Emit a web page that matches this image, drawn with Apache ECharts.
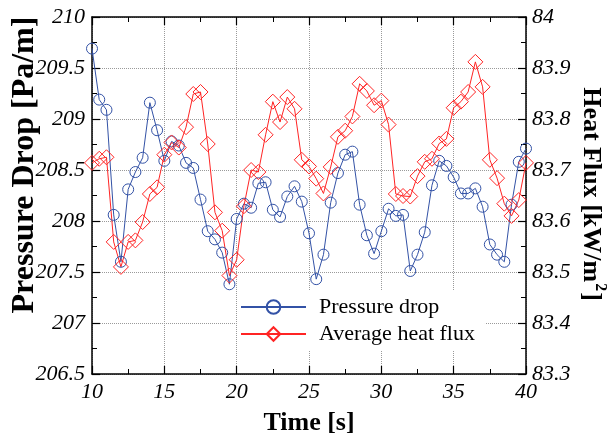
<!DOCTYPE html>
<html>
<head>
<meta charset="utf-8">
<script src="https://cdn.jsdelivr.net/npm/echarts@6/dist/echarts.min.js"></script>
<style>
html,body{margin:0;padding:0;background:#fff;}
#chart{width:608px;height:437px;}
</style>
</head>
<body>
<div id="chart"></div>
<script>
// Time [s]
var times = [10,10.5,11,11.5,12,12.5,13,13.5,14,14.5,15,15.5,16,16.5,17,17.5,18,18.5,19,19.5,
  20,20.5,21,21.5,22,22.5,23,23.5,24,24.5,25,25.5,26,26.5,27,27.5,28,28.5,29,29.5,
  30,30.5,31,31.5,32,32.5,33,33.5,34,34.5,35,35.5,36,36.5,37,37.5,38,38.5,39,39.5,40];
// Pressure drop [Pa/m]
var pressureDrop = [209.69,209.19,209.09,208.06,207.60,208.31,208.48,208.62,209.16,208.89,
  208.59,208.78,208.74,208.57,208.52,208.21,207.90,207.82,207.69,207.38,
  208.02,208.17,208.13,208.37,208.38,208.11,208.04,208.24,208.34,208.19,
  207.88,207.43,207.67,208.18,208.47,208.65,208.68,208.16,207.86,207.68,
  207.90,208.12,208.05,208.06,207.51,207.67,207.89,208.35,208.59,208.54,
  208.43,208.27,208.27,208.32,208.14,207.77,207.67,207.60,208.16,208.58,208.71];
// Average heat flux [kW/m2]
var heatFlux = [83.714,83.722,83.725,83.559,83.510,83.559,83.562,83.598,83.653,83.666,
  83.730,83.754,83.744,83.784,83.849,83.853,83.751,83.617,83.581,83.493,
  83.524,83.629,83.700,83.696,83.769,83.834,83.794,83.843,83.820,83.720,
  83.707,83.683,83.654,83.706,83.765,83.777,83.805,83.869,83.855,83.827,
  83.836,83.789,83.653,83.649,83.648,83.688,83.716,83.722,83.752,83.761,
  83.822,83.834,83.853,83.912,83.863,83.720,83.684,83.634,83.610,83.641,83.714];
var seriesNames = ['Pressure drop','Average heat flux'];

var BLUE = '#3352a6', RED = '#ff2424';
var FONT = '"Liberation Serif","Times New Roman",serif';

function pairs(xs, ys){ return xs.map(function(x,i){ return [x, ys[i]]; }); }

var chart = echarts.init(document.getElementById('chart'), null, {renderer:'canvas'});
var tickStyle = {show:true, inside:true, length:8, lineStyle:{color:'#000', width:1.2}};
var minorStyle = {show:true, splitNumber:2, length:5, lineStyle:{color:'#000', width:1}};
var axisLineStyle = {show:true, onZero:false, lineStyle:{color:'#000', width:1.5}};
var italicRich = {i:{color:'#000', fontFamily:FONT, fontStyle:'italic', fontSize:22}};
function itFmt(v){ return '{i|' + String(Number(v.toFixed(1))) + '}'; }
var labelStyle = {color:'#000', fontFamily:FONT, fontStyle:'italic', fontSize:22, formatter:itFmt, rich:italicRich};

chart.setOption({
  animation:false,
  backgroundColor:'#fff',
  grid:{left:92, right:82, top:17, bottom:63, containLabel:false, outerBoundsMode:'none'},
  legend:{
    data:seriesNames,
    orient:'vertical',
    left:238, top:290,
    backgroundColor:'#fff',
    padding:[6,10,6,2],
    itemWidth:65, itemHeight:17, itemGap:5,
    textStyle:{color:'#000', fontFamily:FONT, fontSize:22, lineHeight:22, padding:[0,0,0,8]}
  },
  xAxis:[{
    type:'value', min:10, max:40, interval:5, position:'bottom',
    name:'Time [s]', nameLocation:'middle', nameGap:36,
    nameTextStyle:{color:'#000', fontFamily:FONT, fontWeight:'bold', fontSize:26},
    axisLine:axisLineStyle, axisTick:tickStyle, minorTick:minorStyle,
    axisLabel:Object.assign({margin:7}, labelStyle),
    splitLine:{show:true, lineStyle:{color:'#9a9a9a', type:'dotted', width:1}}
  },{
    type:'value', min:10, max:40, interval:5, position:'top',
    axisLine:axisLineStyle, axisTick:tickStyle, minorTick:minorStyle,
    axisLabel:{show:false}, splitLine:{show:false}
  }],
  yAxis:[{
    type:'value', min:206.5, max:210, interval:0.5, position:'left',
    axisLine:axisLineStyle, axisTick:tickStyle, minorTick:minorStyle,
    axisLabel:Object.assign({margin:7}, labelStyle),
    splitLine:{show:true, lineStyle:{color:'#9a9a9a', type:'dotted', width:1}}
  },{
    type:'value', min:83.3, max:84, interval:0.1, position:'right',
    axisLine:axisLineStyle, axisTick:tickStyle, minorTick:minorStyle,
    axisLabel:Object.assign({margin:6}, labelStyle),
    splitLine:{show:false}
  }],
  graphic:[{
    type:'text', x:25, y:165, rotation:Math.PI/2,
    style:{text:'Pressure Drop [Pa/m]', fill:'#000', font:'bold 32px ' + FONT, align:'center', verticalAlign:'middle'}
  },{
    type:'text', x:593, y:194, rotation:-Math.PI/2,
    style:{
      text:'{a|Heat Flux [kW/m}{b|2}{a|]}', align:'center', verticalAlign:'middle',
      rich:{
        a:{fill:'#000', fontFamily:FONT, fontWeight:'bold', fontSize:26, lineHeight:30, verticalAlign:'bottom'},
        b:{fill:'#000', fontFamily:FONT, fontWeight:'bold', fontSize:16, lineHeight:30, verticalAlign:'top', padding:[0,1,0,1]}
      }
    }
  }],
  series:[{
    name:seriesNames[0], type:'line', xAxisIndex:0, yAxisIndex:0,
    data:pairs(times, pressureDrop),
    symbol:'circle', symbolSize:11, showAllSymbol:true,
    lineStyle:{color:BLUE, width:1},
    itemStyle:{color:'rgba(255,255,255,0)', borderColor:BLUE, borderWidth:1}
  },{
    name:seriesNames[1], type:'line', xAxisIndex:0, yAxisIndex:1,
    data:pairs(times, heatFlux),
    symbol:'diamond', symbolSize:15, showAllSymbol:true,
    lineStyle:{color:RED, width:1},
    itemStyle:{color:'rgba(255,255,255,0)', borderColor:RED, borderWidth:1}
  }]
});
</script>
</body>
</html>
